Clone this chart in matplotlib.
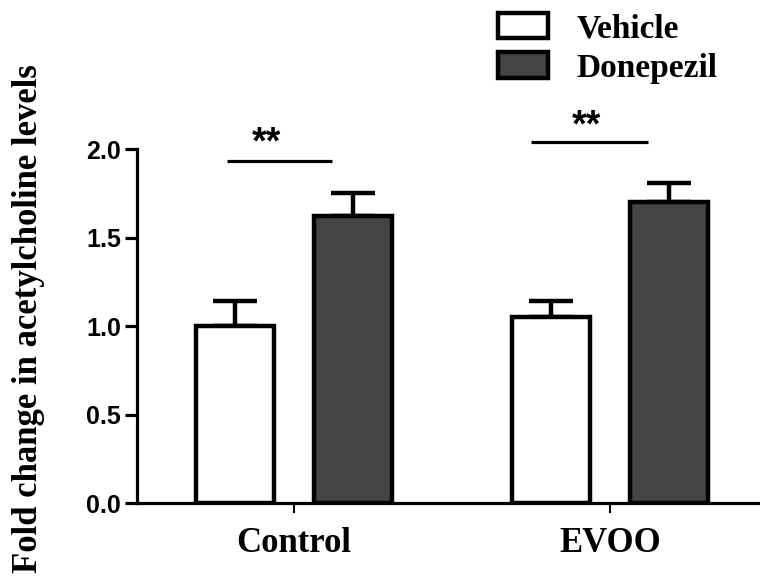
import matplotlib
matplotlib.use("Agg")
import matplotlib.pyplot as plt
import numpy as np

# ---- data ----
groups = ['Control', 'EVOO']
series = ['Vehicle', 'Donepezil']
vehicle = [1.00, 1.05]
vehicle_sem = [0.14, 0.09]
donepezil = [1.62, 1.70]
donepezil_sem = [0.13, 0.11]
# significance bars: (x start, x end, y line, star x, star y)
sig_x0 = [-0.21, 0.75]
sig_x1 = [0.12, 1.12]
sig_y = [1.93, 2.04]
star_x = [-0.087, 0.927]
star_y = [2.03, 2.13]
yticks = [0.0, 0.5, 1.0, 1.5, 2.0]

serif = {'family': 'Liberation Serif', 'weight': 'bold'}
sans = {'family': 'Liberation Sans', 'weight': 'bold'}

fig = plt.figure(figsize=(7.6, 5.76), dpi=100)
ax = fig.add_axes([0.180, 0.1267, 0.820, 0.6146])

x = np.arange(len(groups))
off = 0.187
w = 0.247
lw = 3.2

b1 = ax.bar(x - off, vehicle, w, color='white', edgecolor='black', linewidth=lw, zorder=3)
b2 = ax.bar(x + off, donepezil, w, color='#444444', edgecolor='black', linewidth=lw, zorder=3)

for xs, ys, es in [(x - off, vehicle, vehicle_sem), (x + off, donepezil, donepezil_sem)]:
    ax.errorbar(xs, ys, yerr=[np.zeros(len(es)), es], fmt='none', ecolor='black',
                elinewidth=3.2, capsize=15.5, capthick=3.2, zorder=2)

for i in range(len(groups)):
    ax.plot([sig_x0[i], sig_x1[i]], [sig_y[i], sig_y[i]], color='black', lw=2.3,
            clip_on=False, solid_capstyle='butt')
    ax.text(star_x[i], star_y[i], '**', ha='center', va='center', fontsize=27,
            clip_on=False, **sans)

ax.set_xlim(-0.497, 1.475)
ax.set_ylim(0, 2.0)
ax.set_yticks(yticks)
ax.set_yticklabels(['%.1f' % v for v in yticks], fontsize=18, **sans)
ax.set_xticks(x)
ax.set_xticklabels(groups, fontsize=25, **serif)

for s in ['top', 'right']:
    ax.spines[s].set_visible(False)
for s in ['left', 'bottom']:
    ax.spines[s].set_linewidth(2.3)
ax.tick_params(axis='y', width=2.3, length=8.5, pad=3)
ax.tick_params(axis='x', width=1.5, length=7, pad=10)

ax.set_ylabel('Fold change in acetylcholine levels', fontsize=25, **serif)
ax.yaxis.set_label_coords(-0.148, 0.52)

fig.legend([b1, b2], series, loc='upper left', bbox_to_anchor=(0.655, 0.978),
           frameon=False, prop={'family': 'Liberation Serif', 'weight': 'bold', 'size': 24},
           handlelength=1.5, handleheight=0.81, handletextpad=0.87, labelspacing=0.25,
           borderpad=0, borderaxespad=0)

fig.savefig('out.png', dpi=100)
